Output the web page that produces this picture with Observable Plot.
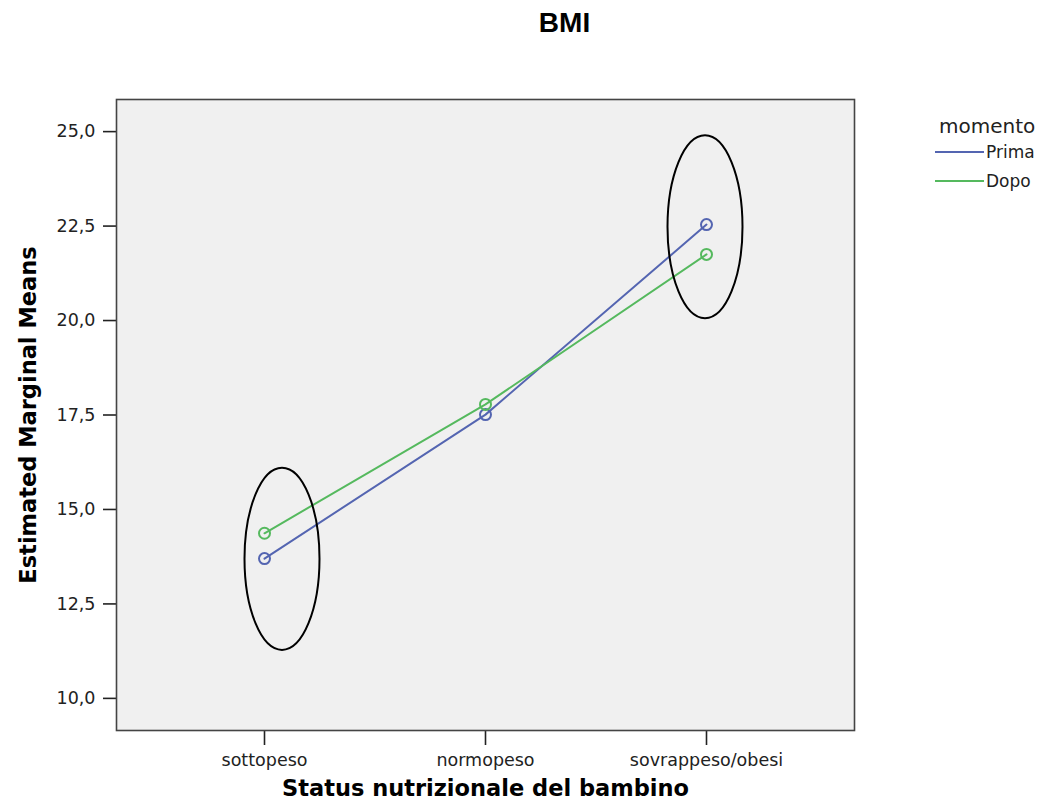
<!DOCTYPE html>
<html>
<head>
<meta charset="utf-8">
<script src="https://cdn.jsdelivr.net/npm/d3@7"></script>
<script src="https://cdn.jsdelivr.net/npm/@observablehq/plot@0.6"></script>
<style>
  body { margin: 0; background: #ffffff; }
  #wrap { position: relative; width: 1054px; height: 811px; overflow: hidden; }
  #title { position: absolute; left: 0; top: 0; width: 1054px; height: 60px; }
  #title span { position: absolute; left: 564.5px; top: 9px; transform: translateX(-50%);
    font: bold 28px "Liberation Sans", Arial, sans-serif; line-height: 28px; color: #000; }
  #chart { position: absolute; left: 0; top: 60px; }
  #legend { position: absolute; left: 0; top: 0; }
</style>
</head>
<body>
<div id="wrap">
  <div id="title"><span>BMI</span></div>
  <div id="chart"></div>
  <svg id="legend" width="1054" height="200"></svg>
</div>
<script>
// ---- data ----
const categories = ["sottopeso", "normopeso", "sovrappeso/obesi"];
const moments = ["Prima", "Dopo"];
const prima = [13.70, 17.51, 22.54];
const dopo = [14.37, 17.78, 21.75];
const yTicks = [10, 12.5, 15, 17.5, 20, 22.5, 25];
const legendTitle = "momento";
const xTitle = "Status nutrizionale del bambino";
const yTitle = "Estimated Marginal Means";
// highlighted groups (annotation ellipses)
const ellipseCategories = ["sottopeso", "sovrappeso/obesi"];
const ellipseMid = [13.68, 22.47];
const ellipseHalf = [2.41, 2.42];

const colors = ["#5465b1", "#55b95e"];
const rows = [];
categories.forEach((c, i) => {
  rows.push({cat: c, momento: "Prima", value: prima[i]});
  rows.push({cat: c, momento: "Dopo", value: dopo[i]});
});

const fmt = d => d.toFixed(1).replace(".", ",");
const FONT = "DejaVu Sans";

const plot = Plot.plot({
  width: 1054,
  height: 751,
  marginTop: 39,
  marginBottom: 81,
  marginLeft: 116,
  marginRight: 200,
  style: {fontFamily: FONT, fontSize: "17.5px", color: "#222", background: "transparent", overflow: "visible"},
  x: {type: "point", domain: categories, padding: 0.666, axis: null},
  y: {domain: [9.15, 25.85], axis: null},
  color: {domain: moments, range: colors},
  marks: [
    Plot.frame({fill: "#f0f0f0", stroke: null}),
    Plot.axisY({ticks: yTicks, tickFormat: fmt, tickSize: 13, tickPadding: 8, label: null, strokeWidth: 1.6, fontSize: 17.5}),
    Plot.axisX({tickSize: 15, tickPadding: 8, label: null, strokeWidth: 1.6, fontSize: 17.5}),
    Plot.line(rows, {x: "cat", y: "value", z: "momento", stroke: "momento", strokeWidth: 2}),
    Plot.dot(rows, {x: "cat", y: "value", stroke: "momento", r: 5.5, strokeWidth: 2, fill: "none"}),
    Plot.frame({stroke: "#444", strokeWidth: 1.6}),
    Plot.text([yTitle], {text: d => d, frameAnchor: "left", textAnchor: "middle", dx: -88, rotate: -90, fontWeight: "bold", fontSize: 22.5, fill: "#000"}),
    Plot.text([xTitle], {text: d => d, frameAnchor: "bottom", textAnchor: "middle", dy: 65, fontWeight: "bold", fontSize: 22.5, fill: "#000"})
  ]
});
document.getElementById("chart").appendChild(plot);

// annotation ellipses positioned through the plot's own scales
const svg = plot.tagName.toLowerCase() === "svg" ? plot : plot.querySelector("svg");
const xs = plot.scale("x"), ys = plot.scale("y");
const ellipseDx = [18, -1];
ellipseCategories.forEach((c, i) => {
  const cy = ys.apply(ellipseMid[i]);
  const ry = Math.abs(ys.apply(ellipseMid[i] - ellipseHalf[i]) - cy);
  d3.select(svg).append("ellipse")
    .attr("cx", xs.apply(c) + ellipseDx[i])
    .attr("cy", cy)
    .attr("rx", 37.5)
    .attr("ry", ry)
    .attr("fill", "none")
    .attr("stroke", "#000")
    .attr("stroke-width", 2);
});

// legend
const lg = d3.select("#legend");
lg.append("text").attr("x", 939).attr("y", 133)
  .attr("font-family", FONT).attr("font-size", 20).attr("fill", "#222").text(legendTitle);
moments.forEach((m, i) => {
  const y = 152 + 29 * i;
  lg.append("line").attr("x1", 935).attr("x2", 984).attr("y1", y).attr("y2", y)
    .attr("stroke", colors[i]).attr("stroke-width", 2);
  lg.append("text").attr("x", 986).attr("y", y).attr("dy", "0.35em")
    .attr("font-family", FONT).attr("font-size", 17).attr("fill", "#222").text(m);
});
</script>
</body>
</html>
